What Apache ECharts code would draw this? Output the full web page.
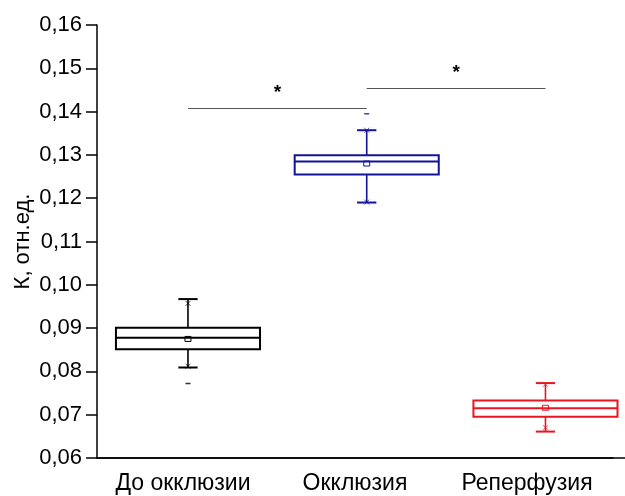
<!DOCTYPE html>
<html>
<head>
<meta charset="utf-8">
<script src="https://cdn.jsdelivr.net/npm/echarts@6/dist/echarts.min.js"></script>
<style>
  html, body { margin: 0; padding: 0; background: #fff; }
  #chart { width: 625px; height: 496px; }
</style>
</head>
<body>
<div id="chart"></div>
<script>
// groups
var categories = ['До окклюзии', 'Окклюзия', 'Реперфузия'];
var colors = ['#000000', '#13139a', '#e8161e'];

// box statistics
var whiskerLow  = [0.0809, 0.1190, 0.0661];
var q1          = [0.0851, 0.1255, 0.0695];
var median      = [0.0878, 0.1285, 0.0715];
var q3          = [0.0901, 0.1299, 0.0733];
var whiskerHigh = [0.0967, 0.1357, 0.0773];
var means       = [0.0875, 0.1280, 0.0716];

// 1% / 99% crosses and min/max dashes
var pctLow  = [0.0812, 0.1191, 0.0670];
var pctHigh = [0.0957, 0.1357, 0.0770];
var extremes = [[0, 0.0772], [1, 0.1395]];

// significance brackets
var sigLevels = [0.1408, 0.1455];

var yTicks = { min: 0.06, max: 0.16, interval: 0.01 };

var myChart = echarts.init(document.getElementById('chart'));

function fmt(v) {
    return v.toFixed(2).replace('.', ',');
}

var boxData = [];
for (var i = 0; i < categories.length; i++) {
    boxData.push([i, whiskerLow[i], q1[i], median[i], q3[i], whiskerHigh[i], means[i]]);
}

var crossData = [];
for (var i = 0; i < categories.length; i++) {
    crossData.push({ value: [i, pctLow[i]], itemStyle: { borderColor: colors[i] } });
    crossData.push({ value: [i, pctHigh[i]], itemStyle: { borderColor: colors[i] } });
}
var dashData = extremes.map(function (d) {
    return { value: d, itemStyle: { color: colors[d[0]] } };
});

function renderBox(params, api) {
    var idx = api.value(0);
    var c = colors[idx];
    var band = api.size([1, 0])[0];
    var half = band * 0.403;
    var cap = band * 0.054;
    var x = api.coord([idx, 0.1])[0];
    var yLo = api.coord([idx, api.value(1)])[1];
    var yQ1 = api.coord([idx, api.value(2)])[1];
    var yMed = api.coord([idx, api.value(3)])[1];
    var yQ3 = api.coord([idx, api.value(4)])[1];
    var yHi = api.coord([idx, api.value(5)])[1];
    var yMean = api.coord([idx, api.value(6)])[1];
    var line = { stroke: c, lineWidth: 2 };
    return {
        type: 'group',
        children: [
            { type: 'line', shape: { x1: x, y1: yQ3, x2: x, y2: yHi }, style: { stroke: c, lineWidth: 1.6 } },
            { type: 'line', shape: { x1: x, y1: yQ1, x2: x, y2: yLo }, style: { stroke: c, lineWidth: 1.6 } },
            { type: 'line', shape: { x1: x - cap, y1: yHi, x2: x + cap, y2: yHi }, style: line },
            { type: 'line', shape: { x1: x - cap, y1: yLo, x2: x + cap, y2: yLo }, style: line },
            { type: 'rect', shape: { x: x - half, y: yQ3, width: half * 2, height: yQ1 - yQ3 },
              style: { fill: '#fff', stroke: c, lineWidth: 2 } },
            { type: 'line', shape: { x1: x - half, y1: yMed, x2: x + half, y2: yMed }, style: line },
            { type: 'rect', shape: { x: x - 3, y: yMean - 2.5, width: 6, height: 5 },
              style: { fill: 'none', stroke: c, lineWidth: 1 } }
        ]
    };
}

option = {
    animation: false,
    backgroundColor: '#fff',
    grid: [
        { left: 97, right: 12, top: 25, bottom: 38 },
        { left: 97, right: 0, top: 25, bottom: 38 }
    ],
    xAxis: [
        {
            type: 'category',
            gridIndex: 0,
            data: categories,
            boundaryGap: true,
            axisLine: { lineStyle: { color: '#000', width: 1.5 } },
            axisTick: { alignWithLabel: true, length: 10, lineStyle: { color: '#000', width: 1.5 } },
            axisLabel: { interval: 0, color: '#000', fontSize: 23, margin: 14, fontFamily: 'Liberation Sans, Arial' },
            splitLine: { show: false }
        },
        {
            // positions of the boxes (slightly wider spacing than the labels)
            type: 'value',
            gridIndex: 1,
            min: -0.509,
            max: 2.445,
            axisLine: { show: true, onZero: false, lineStyle: { color: '#000', width: 1.5 } },
            axisTick: { show: false },
            axisLabel: { show: false },
            splitLine: { show: false }
        }
    ],
    yAxis: [
        {
            type: 'value',
            gridIndex: 0,
            min: yTicks.min,
            max: yTicks.max,
            interval: yTicks.interval,
            name: 'К, отн.ед.',
            nameLocation: 'middle',
            nameGap: 63,
            nameMoveOverlap: false,
            nameTextStyle: { color: '#000', fontSize: 22, fontFamily: 'Liberation Sans, Arial' },
            axisLine: { show: true, lineStyle: { color: '#000', width: 1.5 } },
            axisTick: { show: true, length: 11, lineStyle: { color: '#000', width: 1.5 } },
            axisLabel: { color: '#000', fontSize: 22, margin: 15, fontFamily: 'Liberation Sans, Arial', formatter: fmt },
            splitLine: { show: false }
        },
        {
            type: 'value',
            gridIndex: 1,
            min: yTicks.min,
            max: yTicks.max,
            interval: yTicks.interval,
            axisLine: { show: false },
            axisTick: { show: false },
            axisLabel: { show: false },
            splitLine: { show: false }
        }
    ],
    series: [
        {
            type: 'custom',
            xAxisIndex: 1,
            yAxisIndex: 1,
            renderItem: renderBox,
            data: boxData,
            z: 3
        },
        {
            type: 'scatter',
            xAxisIndex: 1,
            yAxisIndex: 1,
            symbol: 'path://M0,0L10,10M10,0L0,10',
            symbolSize: 5,
            itemStyle: { color: 'none', borderWidth: 1, opacity: 0.7 },
            data: crossData,
            z: 4
        },
        {
            type: 'scatter',
            xAxisIndex: 1,
            yAxisIndex: 1,
            symbol: 'rect',
            symbolSize: [5, 1.5],
            data: dashData,
            z: 4,
            markLine: {
                silent: true,
                symbol: 'none',
                lineStyle: { color: '#555', width: 1, type: 'solid' },
                label: {
                    show: true,
                    position: 'middle',
                    formatter: '*',
                    color: '#000',
                    fontSize: 19,
                    fontWeight: 'bold',
                    distance: 6
                },
                data: [
                    [{ coord: [0, sigLevels[0]] }, { coord: [1, sigLevels[0]] }],
                    [{ coord: [1, sigLevels[1]] }, { coord: [2, sigLevels[1]] }]
                ]
            }
        }
    ]
};

myChart.setOption(option, true);
</script>
</body>
</html>
